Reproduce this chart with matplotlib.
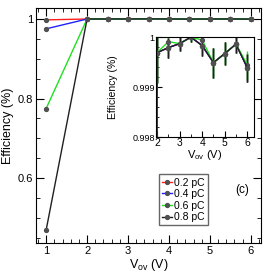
import numpy as np
import matplotlib.pyplot as plt
from matplotlib.ticker import MultipleLocator, FuncFormatter

plt.rcParams['font.family'] = ['Liberation Sans', 'DejaVu Sans']

vov = [1, 2, 2.5, 3, 3.5, 4, 4.5, 5, 5.5, 6]
labels = ['0.2 pC', '0.4 pC', '0.6 pC', '0.8 pC']
colors = ['#ff2020', '#2020ff', '#20e020', '#202020']

eff_02 = [0.9975, 0.99969, 0.99979, 0.99987, 1.0, 0.99983, 0.99949, 0.99967, 0.99986, 0.99939]
eff_04 = [0.975, 0.99969, 0.99979, 0.99987, 1.0, 0.99983, 0.99949, 0.99967, 0.99986, 0.99939]
eff_06 = [0.775, 0.99969, 0.99991, 0.99987, 1.0, 0.99994, 0.99949, 0.99967, 0.99986, 0.99945]
eff_08 = [0.47, 0.99969, 0.99979, 0.99987, 1.0, 0.99983, 0.99949, 0.99967, 0.99986, 0.99939]
err = [0.0005, 0.0006, 0.0002, 0.00015, 0.0001, 0.0002, 0.0003, 0.00023, 0.00018, 0.00028]

series = [eff_02, eff_04, eff_06, eff_08]

fmt = FuncFormatter(lambda v, p: ('%g' % round(v, 6)))

fig = plt.figure(figsize=(2.64, 2.73), dpi=100)
ax = fig.add_axes([0.136, 0.110, 0.853, 0.861])
ins = fig.add_axes([0.591, 0.498, 0.371, 0.366])

for i in range(4):
    ax.errorbar(vov, series[i], yerr=err, color=colors[i], lw=1.0,
                marker='o', ms=2.8, mfc='#505050', mec='#505050',
                ecolor='#202020', elinewidth=1, capsize=0)
    ax.plot([], [], color=colors[i], lw=1.0, marker='o', ms=2.8,
            mfc='#505050', mec='#505050', label=labels[i])
    ins.errorbar(vov, series[i], yerr=err,
                 color=colors[i], lw=1.0, marker='o', ms=2.8,
                 mfc='#505050', mec='#505050',
                 ecolor=colors[i] if i == 2 else '#202020',
                 elinewidth=1, capsize=0)

ax.set_xlim(0.75, 6.25)
ax.set_ylim(0.4375, 1.0275)
ax.xaxis.set_major_locator(MultipleLocator(1))
ax.xaxis.set_minor_locator(MultipleLocator(0.2))
ax.yaxis.set_major_locator(MultipleLocator(0.2))
ax.yaxis.set_minor_locator(MultipleLocator(0.05))
ax.yaxis.set_major_formatter(fmt)
ax.tick_params(which='both', direction='in', top=True, right=True, labelsize=8, pad=2)
ax.tick_params(which='major', length=6)
ax.tick_params(which='minor', length=3)
ax.set_xlabel('V$_{\\mathregular{ov}}$ (V)', fontsize=9, labelpad=1)
ax.set_ylabel('Efficiency (%)', fontsize=9, labelpad=3)
ax.legend(loc='lower left', bbox_to_anchor=(0.545, 0.075), fontsize=7.5,
          frameon=True, fancybox=False, edgecolor='#404040',
          handlelength=1.0, handletextpad=0.2, borderpad=0.3,
          labelspacing=0.15, borderaxespad=0)
ax.text(0.915, 0.225, '(c)', transform=ax.transAxes, fontsize=8.5,
        ha='center', va='center')

ins.set_xlim(1.95, 6.3)
ins.set_ylim(0.998, 1.0)
ins.xaxis.set_major_locator(MultipleLocator(1))
ins.xaxis.set_minor_locator(MultipleLocator(0.5))
ins.yaxis.set_major_locator(MultipleLocator(0.001))
ins.yaxis.set_minor_locator(MultipleLocator(0.0002))
ins.yaxis.set_major_formatter(fmt)
ins.tick_params(which='both', direction='in', pad=1)
ins.tick_params(axis='x', labelsize=7.5)
ins.tick_params(axis='y', labelsize=6.5)
ins.tick_params(which='major', length=4)
ins.tick_params(which='minor', length=2)
ins.set_xlabel('V$_{\\mathregular{ov}}$ (V)', fontsize=8, labelpad=0)
ins.set_ylabel('Efficiency (%)', fontsize=7.5, labelpad=10)

plt.savefig('out.png', dpi=100)
